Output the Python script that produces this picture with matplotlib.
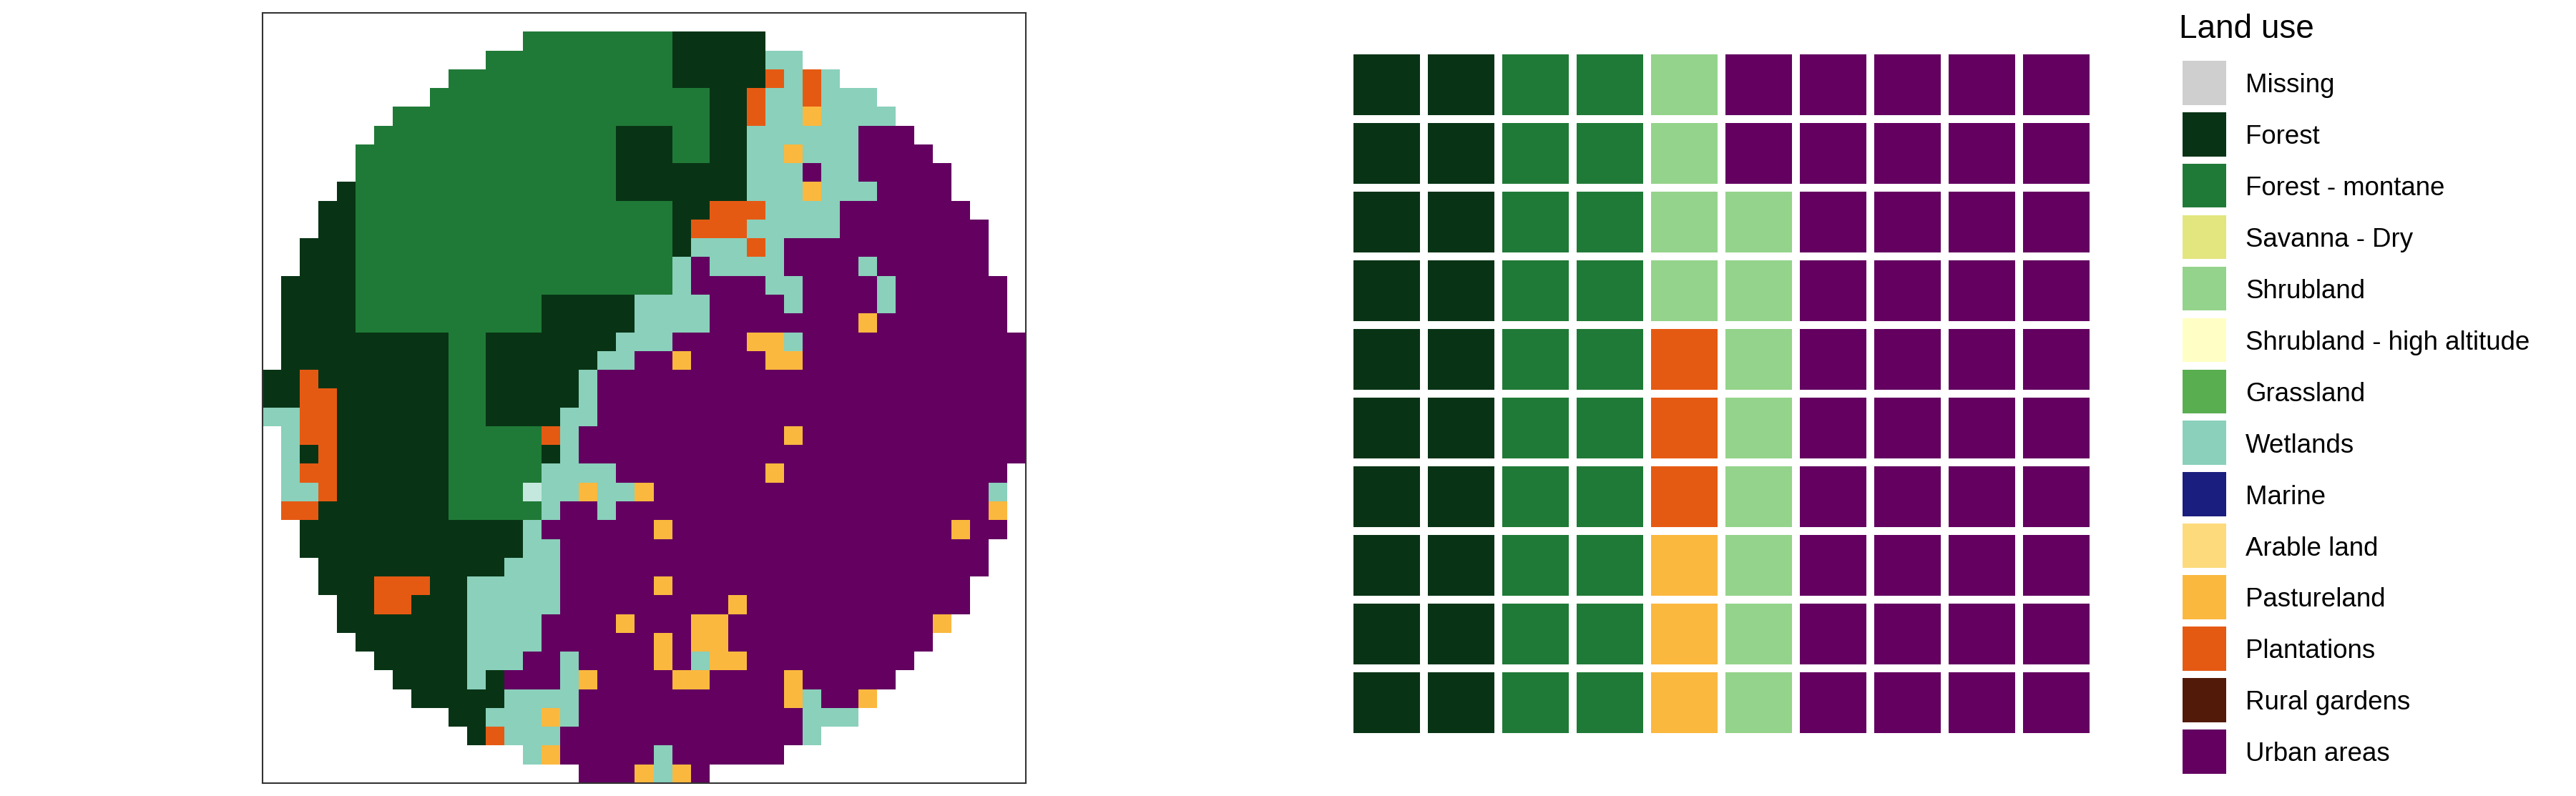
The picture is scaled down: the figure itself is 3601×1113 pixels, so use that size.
import matplotlib
matplotlib.use('Agg')
import matplotlib.pyplot as plt
import numpy as np
from matplotlib.colors import ListedColormap
from matplotlib.patches import Patch

plt.rcParams['font.family'] = ['Liberation Sans', 'DejaVu Sans']

W, H = 3601, 1113

### legend categories and colours
land_use = ['Missing', 'Forest', 'Forest - montane', 'Savanna - Dry', 'Shrubland',
            'Shrubland - high altitude', 'Grassland', 'Wetlands', 'Marine',
            'Arable land', 'Pastureland', 'Plantations', 'Rural gardens', 'Urban areas']
land_colors = ['#cfcfcf', '#083415', '#207a37', '#e3e57e', '#94d38b', '#ffffc5', '#59ae50',
               '#8ad0bb', '#1a1e7e', '#fddb7c', '#fbb83f', '#e55a13', '#521a08', '#630060']

### map cells, one letter per cell, . is empty
map_codes = {'F': 'Forest', 'M': 'Forest - montane', 'W': 'Wetlands', 'P': 'Pastureland',
             'O': 'Plantations', 'U': 'Urban areas'}
pale_cell_color = '#c5e8de'   # the single pale cell (L) next to the wetlands
map_rows = [
    ".........................................",
    "..............MMMMMMMMFFFFF..............",
    "............MMMMMMMMMMFFFFFWW............",
    "..........MMMMMMMMMMMMFFFFFOWOW..........",
    ".........MMMMMMMMMMMMMMMFFOWWOWWW........",
    ".......MMMMMMMMMMMMMMMMMFFOWWPWWWW.......",
    "......MMMMMMMMMMMMMFFFMMFFWWWWWWUUU......",
    ".....MMMMMMMMMMMMMMFFFMMFFWWPWWWUUUU.....",
    ".....MMMMMMMMMMMMMMFFFFFFFWWWUWWUUUUU....",
    "....FMMMMMMMMMMMMMMFFFFFFFWWWPWWWUUUU....",
    "...FFMMMMMMMMMMMMMMMMMFFOOOWWWWUUUUUUU...",
    "...FFMMMMMMMMMMMMMMMMMFOOOWWWWWUUUUUUUU..",
    "..FFFMMMMMMMMMMMMMMMMMFWWWOWUUUUUUUUUUU..",
    "..FFFMMMMMMMMMMMMMMMMMWUWWWWUUUUWUUUUUU..",
    ".FFFFMMMMMMMMMMMMMMMMMWUUUUWWUUUUWUUUUUU.",
    ".FFFFMMMMMMMMMMFFFFFWWWWUUUUWUUUUWUUUUUU.",
    ".FFFFMMMMMMMMMMFFFFFWWWWUUUUUUUUPUUUUUUU.",
    ".FFFFFFFFFMMFFFFFFFWWWUUUUPPWUUUUUUUUUUUU",
    ".FFFFFFFFFMMFFFFFFWWUUPUUUUPPUUUUUUUUUUUU",
    "FFOFFFFFFFMMFFFFFWUUUUUUUUUUUUUUUUUUUUUUU",
    "FFOOFFFFFFMMFFFFFWUUUUUUUUUUUUUUUUUUUUUUU",
    "WWOOFFFFFFMMFFFFWWUUUUUUUUUUUUUUUUUUUUUUU",
    ".WOOFFFFFFMMMMMOWUUUUUUUUUUUPUUUUUUUUUUUU",
    ".WFOFFFFFFMMMMMFWUUUUUUUUUUUUUUUUUUUUUUUU",
    ".WOOFFFFFFMMMMMWWWWUUUUUUUUPUUUUUUUUUUUU.",
    ".WWOFFFFFFMMMMLWWPWWPUUUUUUUUUUUUUUUUUUW.",
    ".OOFFFFFFFMMMMMWUUWUUUUUUUUUUUUUUUUUUUUP.",
    "..FFFFFFFFFFFFWUUUUUUPUUUUUUUUUUUUUUUPUU.",
    "..FFFFFFFFFFFFWWUUUUUUUUUUUUUUUUUUUUUUU..",
    "...FFFFFFFFFFWWWUUUUUUUUUUUUUUUUUUUUUUU..",
    "...FFFOOOFFWWWWWUUUUUPUUUUUUUUUUUUUUUU...",
    "....FFOOFFFWWWWWUUUUUUUUUPUUUUUUUUUUUU...",
    "....FFFFFFFWWWWUUUUPUUUPPUUUUUUUUUUUP....",
    ".....FFFFFFWWWWUUUUUUPUPPUUUUUUUUUUU.....",
    "......FFFFFWWWUUWUUUUPUWPPUUUUUUUUU......",
    ".......FFFFWFUUUWPUUUUPPUUUUPUUUUU.......",
    "........FFFFFWWWWUUUUUUUUUUUPWUUP........",
    "..........FFWWWPWUUUUUUUUUUUUWWW.........",
    "...........FOWWWUUUUUUUUUUUUUW...........",
    "..............WPUUUUUWUUUUUU.............",
    ".................UUUPWPU.................",
]

### waffle, number of squares per class, filled column by column from the bottom
waffle_classes = ['Forest', 'Forest - montane', 'Pastureland', 'Plantations', 'Shrubland', 'Urban areas']
waffle_counts = [20, 20, 3, 3, 12, 42]


def px_axes(fig, left, top, right, bottom):
    return fig.add_axes([left / W, 1 - bottom / H, (right - left) / W, (bottom - top) / H])


fig = plt.figure(figsize=(W / 300, H / 300), dpi=300)

# map on the left
ax1 = px_axes(fig, 367, 18, 1434, 1095)
map_palette = ['#ffffff', pale_cell_color] + land_colors
cmap = ListedColormap(map_palette)
code_to_idx = {'.': 0, 'L': 1}
for k, name in map_codes.items():
    code_to_idx[k] = land_use.index(name) + 2
grid = np.array([[code_to_idx[c] for c in row] for row in map_rows])
ax1.pcolormesh(np.arange(grid.shape[1] + 1), np.arange(grid.shape[0] + 1), grid,
               cmap=cmap, vmin=-0.5, vmax=len(map_palette) - 0.5, antialiased=False)
ax1.set_xlim(0, grid.shape[1])
ax1.set_ylim(grid.shape[0], 0)
ax1.set_xticks([])
ax1.set_yticks([])
for s in ax1.spines.values():
    s.set_linewidth(0.5)
    s.set_color('#333333')

# waffle in the middle
ax2 = px_axes(fig, 1886, 70, 2925.5, 1030)
cells = np.repeat([land_use.index(c) for c in waffle_classes], waffle_counts)
waffle = cells.reshape(10, 10).T
ax2.pcolormesh(np.arange(11), np.arange(11), waffle, cmap=ListedColormap(land_colors),
               vmin=-0.5, vmax=len(land_colors) - 0.5, edgecolors='white', linewidth=2.64)
ax2.set_xlim(0, 10)
ax2.set_ylim(0, 10)
ax2.axis('off')

# legend on the right
handles = [Patch(facecolor=c, edgecolor='none', label=n) for n, c in zip(land_use, land_colors)]
leg = fig.legend(handles=handles, loc='upper left', bbox_to_anchor=(3050.5 / W, 1 - 85 / H),
                 frameon=False, fontsize=8.8, borderpad=0, borderaxespad=0,
                 handlelength=1.683, handleheight=2.21, labelspacing=0.28, handletextpad=0.74)
for t in leg.get_texts():
    t.set_y(-2)   # pixels, labels sit a bit lower than the default baseline
fig.text(3045.5 / W, 1 - 53 / H, 'Land use', fontsize=11, ha='left', va='baseline')

fig.savefig('out.png', dpi=300)
